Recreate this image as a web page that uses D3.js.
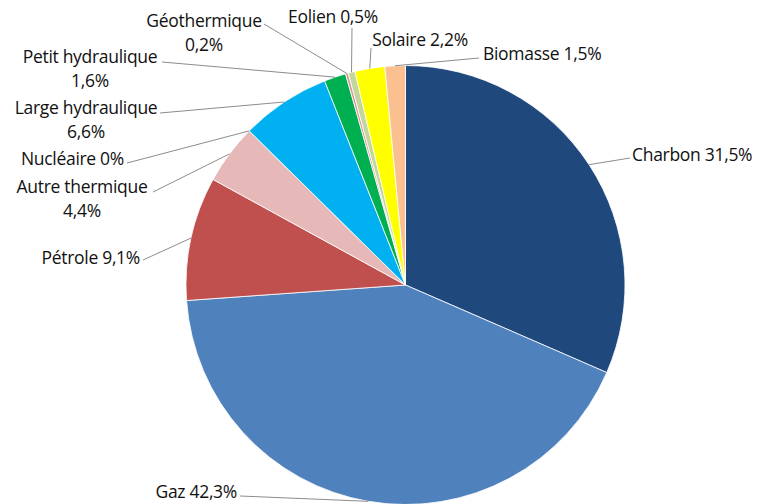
<!DOCTYPE html>
<html>
<head>
<meta charset="utf-8">
<script src="https://cdn.jsdelivr.net/npm/d3@7"></script>
<style>
  body { margin: 0; background: #fff; }
  text { font-family: "Open Sans", sans-serif; font-size: 17.5px; fill: #111; letter-spacing: -0.3px; }
</style>
</head>
<body>
<div id="chart"></div>
<script>
// data
var sources = ["Charbon", "Gaz", "Pétrole", "Autre thermique", "Nucléaire", "Large hydraulique",
               "Petit hydraulique", "Géothermique", "Eolien", "Solaire", "Biomasse"]
var shares = [31.5, 42.3, 9.1, 4.4, 0, 6.6, 1.6, 0.2, 0.5, 2.2, 1.5]
var shareLabels = ["31,5%", "42,3%", "9,1%", "4,4%", "0%", "6,6%", "1,6%", "0,2%", "0,5%", "2,2%", "1,5%"]

var colors = ["#1F497D", "#4F81BD", "#C0504D", "#E6B9B8", "#8064A2", "#00B0F0",
              "#00B050", "#D99694", "#C3D69B", "#FFFF00", "#FAC090"]

// label layout: text position, anchor, two-line or not, leader start
var labelPos = [
  {x: 632, y: 161, anchor: "start", two: false, lx: 630, ly: 158},
  {x: 237, y: 498, anchor: "end", two: false, lx: 240, ly: 496},
  {x: 140, y: 264, anchor: "end", two: false, lx: 143, ly: 260},
  {x: 82, y: 193, anchor: "middle", two: true, lx: 153, ly: 192},
  {x: 124, y: 165, anchor: "end", two: false, lx: 127, ly: 163},
  {x: 86, y: 114, anchor: "middle", two: true, lx: 160, ly: 113},
  {x: 90, y: 63, anchor: "middle", two: true, lx: 162, ly: 62},
  {x: 204, y: 27, anchor: "middle", two: true, lx: 264, ly: 24},
  {x: 333, y: 23, anchor: "middle", two: false, lx: 352, ly: 28},
  {x: 420, y: 46, anchor: "middle", two: false, lx: 371, ly: 48},
  {x: 483, y: 60, anchor: "start", two: false, lx: 479, ly: 58}
]

var width = 757, height = 504
var cx = 405.5, cy = 285, radius = 219.5

var svg = d3.select("#chart").append("svg")
    .attr("width", width)
    .attr("height", height)

var pie = d3.pie().sort(null).value(function(d) { return d })
var arcs = pie(shares)

var arc = d3.arc().innerRadius(0).outerRadius(radius)

var g = svg.append("g").attr("transform", "translate(" + cx + "," + cy + ")")

g.selectAll("path.slice")
  .data(arcs)
  .enter().append("path")
  .attr("class", "slice")
  .attr("d", arc)
  .attr("fill", function(d, i) { return colors[i] })
  .attr("stroke", "#fff")
  .attr("stroke-width", 0.8)

// leader lines end on the rim at each slice's mid angle
function rimPoint(d) {
  var a = (d.startAngle + d.endAngle) / 2
  return [cx + radius * Math.sin(a), cy - radius * Math.cos(a)]
}

svg.selectAll("line.leader")
  .data(arcs)
  .enter().append("line")
  .attr("class", "leader")
  .attr("x1", function(d, i) { return labelPos[i].lx })
  .attr("y1", function(d, i) { return labelPos[i].ly })
  .attr("x2", function(d) { return rimPoint(d)[0] })
  .attr("y2", function(d) { return rimPoint(d)[1] })
  .attr("stroke", "#8c8c8c")
  .attr("stroke-width", 1)

var labels = svg.selectAll("text.lbl")
  .data(arcs)
  .enter().append("text")
  .attr("class", "lbl")
  .attr("x", function(d, i) { return labelPos[i].x })
  .attr("y", function(d, i) { return labelPos[i].y })
  .attr("text-anchor", function(d, i) { return labelPos[i].anchor })

labels.each(function(d, i) {
  var t = d3.select(this)
  var p = labelPos[i]
  if (p.two) {
    t.append("tspan").attr("x", p.x).text(sources[i])
    t.append("tspan").attr("x", p.x).attr("dy", 24).text(shareLabels[i])
  } else {
    t.text(sources[i] + " " + shareLabels[i])
  }
})
</script>
</body>
</html>
